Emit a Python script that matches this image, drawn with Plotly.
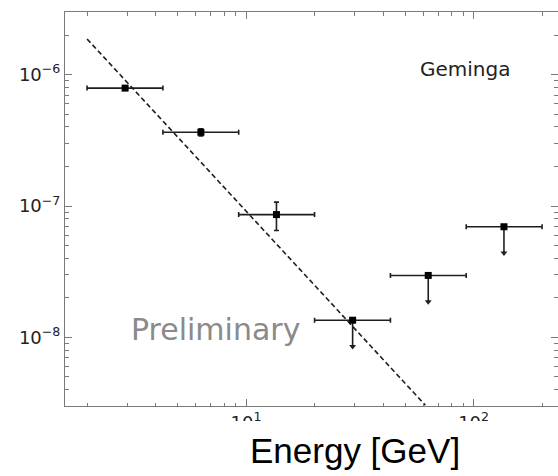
import math
import plotly.graph_objects as go

# Geminga spectral points: bin centres, bin edges, flux and flux errors
energy = [2.94, 6.33, 13.6, 29.4, 63.2, 136.0]
energy_lo = [2.0, 4.31, 9.28, 20.0, 43.1, 92.8]
energy_hi = [4.31, 9.28, 20.0, 43.1, 92.8, 200.0]
flux = [7.9e-7, 3.64e-7, 8.6e-8, 1.35e-8, 2.96e-8, 6.95e-8]
flux_err = [2.0e-8, 2.3e-8, 2.1e-8, 0.0, 0.0, 0.0]
upper_limit = [False, False, False, True, True, True]

# power-law model, drawn as a dashed line
model_energy = [2.0, 61.4]
model_flux = [1.87e-6, 3.04e-9]

x_tickvals = [10, 100]
x_ticktext = ["10<sup>1</sup>", "10<sup>2</sup>"]
y_tickvals = [1e-8, 1e-7, 1e-6]
y_ticktext = ["10<sup>\u22128</sup>", "10<sup>\u22127</sup>", "10<sup>\u22126</sup>"]

ARROW_DEX = 0.2          # length of the upper-limit arrows in decades
INK = "#1e1e1e"
FRAME = "#7a7a7a"
TICK_FONT = dict(family="DejaVu Sans", size=18, color="#222222")


def pick(values, mask):
    return [v for v, m in zip(values, mask) if m]


det = [not u for u in upper_limit]
ul = upper_limit

fig = go.Figure()

# model line
fig.add_trace(go.Scatter(
    x=model_energy, y=model_flux, mode="lines",
    line=dict(color=INK, width=1.6, dash="5px,3px"),
    showlegend=False, hoverinfo="skip",
))

# measured points with energy-bin and flux error bars
e_d = pick(energy, det)
fig.add_trace(go.Scatter(
    x=e_d, y=pick(flux, det), mode="markers",
    marker=dict(symbol="square", size=7, color="black"),
    error_x=dict(type="data", symmetric=False,
                 array=[h - e for h, e in zip(pick(energy_hi, det), e_d)],
                 arrayminus=[e - l for l, e in zip(pick(energy_lo, det), e_d)],
                 color=INK, thickness=1.6, width=2.5),
    error_y=dict(type="data", array=pick(flux_err, det),
                 color=INK, thickness=1.6, width=2.5),
    showlegend=False,
))

# upper limits: marker, energy bin, downward arrow
e_u = pick(energy, ul)
f_u = pick(flux, ul)
arrow_x, arrow_y = [], []
for e, f in zip(e_u, f_u):
    arrow_x += [e, e, None]
    arrow_y += [f, f * 10 ** (-ARROW_DEX), None]
fig.add_trace(go.Scatter(
    x=arrow_x, y=arrow_y, mode="lines",
    line=dict(color=INK, width=1.6),
    showlegend=False, hoverinfo="skip",
))
fig.add_trace(go.Scatter(
    x=e_u, y=[f * 10 ** (-ARROW_DEX) for f in f_u], mode="markers",
    marker=dict(symbol="triangle-down", size=6, color=INK),
    showlegend=False, hoverinfo="skip",
))
fig.add_trace(go.Scatter(
    x=e_u, y=f_u, mode="markers",
    marker=dict(symbol="square", size=7, color="black"),
    error_x=dict(type="data", symmetric=False,
                 array=[h - e for h, e in zip(pick(energy_hi, ul), e_u)],
                 arrayminus=[e - l for l, e in zip(pick(energy_lo, ul), e_u)],
                 color=INK, thickness=1.6, width=2.5),
    showlegend=False,
))

minor_x = [m * 10 ** k for k in range(0, 3) for m in range(2, 10)]
minor_y = [m * 10 ** k for k in range(-9, -5) for m in range(2, 10)]

axis_common = dict(
    type="log", tickmode="array", ticks="inside", ticklen=7, tickwidth=1,
    tickcolor=FRAME, showline=True, linecolor=FRAME, linewidth=1,
    mirror="allticks", showgrid=False, zeroline=False, tickfont=TICK_FONT,
)

fig.update_layout(
    width=558, height=476,
    margin=dict(l=65, r=0, t=12, b=70),
    paper_bgcolor="white", plot_bgcolor="white",
    xaxis=dict(
        range=[math.log10(1.6), math.log10(235)],
        tickvals=x_tickvals, ticktext=x_ticktext,
        minor=dict(tickvals=minor_x, ticks="inside", ticklen=3.5,
                   tickcolor=FRAME, tickwidth=1, showgrid=False),
        **axis_common,
    ),
    yaxis=dict(
        range=[math.log10(3e-9), math.log10(3e-6)],
        tickvals=y_tickvals, ticktext=y_ticktext,
        minor=dict(tickvals=minor_y, ticks="inside", ticklen=4,
                   tickcolor=FRAME, tickwidth=1, showgrid=False),
        **axis_common,
    ),
    shapes=[dict(type="rect", xref="paper", yref="paper",
                 x0=0.0, x1=1.0, y0=-0.0381, y1=-0.2,
                 fillcolor="white", line=dict(width=0), layer="above")],
    annotations=[
        dict(text="Geminga", xref="paper", yref="paper", x=0.8107, y=0.855,
             showarrow=False, xanchor="center", yanchor="middle",
             font=dict(family="DejaVu Sans", size=20, color="#222222")),
        dict(text="Preliminary", xref="paper", yref="paper", x=0.305, y=0.193,
             showarrow=False, xanchor="center", yanchor="middle",
             font=dict(family="DejaVu Sans", size=30, color="#8a8a8a")),
        dict(text="Energy [GeV]", xref="paper", yref="paper", x=0.588, y=-0.112,
             showarrow=False, xanchor="center", yanchor="middle",
             font=dict(family="Liberation Sans", size=35, color="black")),
    ],
)

fig.write_html("out.html")
